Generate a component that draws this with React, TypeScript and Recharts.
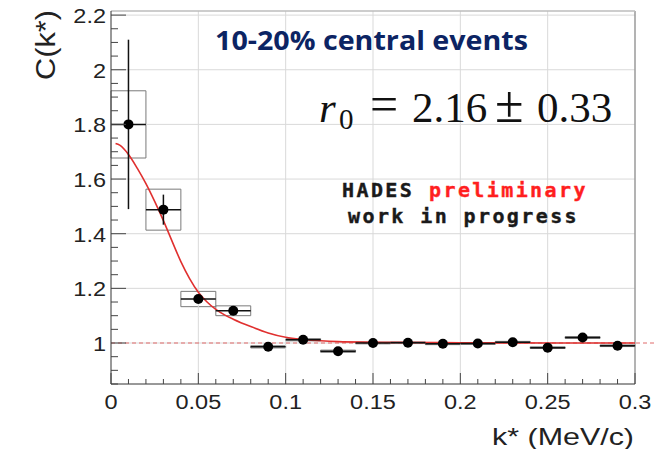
import React from 'react';
import {
  ComposedChart,
  XAxis,
  YAxis,
  Scatter,
  Line,
  ErrorBar,
  ReferenceLine,
  ReferenceArea,
} from 'recharts';

// Correlation function C(k*) per k* bin (bin width 0.02 MeV/c)
const binCenters = [0.01, 0.03, 0.05, 0.07, 0.09, 0.11, 0.13, 0.15, 0.17, 0.19, 0.21, 0.23, 0.25, 0.27, 0.29];
const corrValues = [1.8, 1.488, 1.161, 1.118, 0.986, 1.012, 0.97, 1.0, 1.001, 0.997, 0.998, 1.003, 0.983, 1.02, 0.99];
const statErrors = [0.31, 0.055, 0.012, 0.01, 0.006, 0.006, 0.006, 0.005, 0.005, 0.005, 0.005, 0.005, 0.005, 0.005, 0.005];
const sysErrors = [0.123, 0.075, 0.028, 0.018, 0.004, 0.004, 0.004, 0.003, 0.003, 0.003, 0.003, 0.003, 0.003, 0.003, 0.003];
const binHalfWidth = 0.01;

// Fitted correlation function
const fitK = [0.0026, 0.005, 0.01, 0.015, 0.02, 0.025, 0.03, 0.035, 0.04, 0.045, 0.05, 0.055, 0.06, 0.065, 0.07, 0.08, 0.09, 0.1, 0.11, 0.12, 0.13, 0.15, 0.2, 0.25, 0.3];
const fitC = [1.73, 1.724, 1.69, 1.64, 1.583, 1.518, 1.448, 1.372, 1.298, 1.236, 1.186, 1.15, 1.123, 1.103, 1.087, 1.06, 1.037, 1.021, 1.013, 1.008, 1.005, 1.003, 1.001, 1.0, 1.0];

// Axis ticks
const xMajorTicks = [0, 0.05, 0.1, 0.15, 0.2, 0.25, 0.3];
const yMajorTicks = [1, 1.2, 1.4, 1.6, 1.8, 2, 2.2];
const xDomain: [number, number] = [0, 0.3];
const yDomain: [number, number] = [0.85, 2.215];

const round = (v: number) => Math.round(v * 10000) / 10000;

function subdivide(majors: number[], parts: number, lo: number, hi: number) {
  const step = (majors[1] - majors[0]) / parts;
  const out: number[] = [];
  for (let v = majors[0] - step * parts; v <= hi + 1e-9; v += step) {
    const r = round(v);
    if (r >= lo - 1e-9 && r <= hi + 1e-9) out.push(r);
  }
  return out;
}

const xAllTicks = subdivide(xMajorTicks, 5, xDomain[0], xDomain[1]);
const yAllTicks = subdivide(yMajorTicks, 4, yDomain[0], 2.2);

const isMajor = (v: number, majors: number[]) => majors.some((m) => Math.abs(m - v) < 1e-6);
const fmt = (v: number) => String(Math.round(v * 100) / 100);

const points = binCenters.map((k, i) => ({
  k,
  c: corrValues[i],
  ey: statErrors[i],
  ex: binHalfWidth,
}));
const curve = fitK.map((k, i) => ({ k, c: fitC[i] }));

const TICK_FONT = '"Liberation Sans", Arial, sans-serif';
const MONO_FONT = '"DejaVu Sans Mono", monospace';
const SERIF_FONT = '"Liberation Serif", "DejaVu Serif", serif';

const XTick = (props: any) => {
  const { x, y, payload } = props;
  const major = isMajor(payload.value, xMajorTicks);
  return (
    <g>
      <line x1={x} x2={x} y1={y} y2={y - (major ? 11 : 5)} stroke="#444" strokeWidth={1} />
      {major && (
        <text
          transform={`translate(${x},${y + 25}) scale(1.12,1)`}
          textAnchor="middle"
          fontFamily={TICK_FONT}
          fontSize={21}
          fill="#222"
        >
          {fmt(payload.value)}
        </text>
      )}
    </g>
  );
};

const YTick = (props: any) => {
  const { x, y, payload } = props;
  const major = isMajor(payload.value, yMajorTicks);
  return (
    <g>
      <line x1={x} x2={x + (major ? 15 : 7)} y1={y} y2={y} stroke="#444" strokeWidth={1} />
      {major && (
        <text
          transform={`translate(${x - 5},${y + 8}) scale(1.12,1)`}
          textAnchor="end"
          fontFamily={TICK_FONT}
          fontSize={21}
          fill="#222"
        >
          {fmt(payload.value)}
        </text>
      )}
    </g>
  );
};

const Dot = (props: any) => <circle cx={props.cx} cy={props.cy} r={5} fill="#000" />;

export default function App() {
  return (
    <div style={{ position: 'absolute', left: 0, top: 0, width: 672, height: 449, background: '#fff' }}>
      <ComposedChart
        width={672}
        height={449}
        margin={{ top: 11, right: 37, bottom: 35, left: 51 }}
      >
        <XAxis
          type="number"
          dataKey="k"
          domain={xDomain}
          ticks={xAllTicks}
          interval={0}
          allowDataOverflow
          tickSize={0}
          tickMargin={0}
          height={30}
          stroke="#333"
          tick={<XTick />}
        />
        <YAxis
          type="number"
          dataKey="c"
          domain={yDomain}
          ticks={yAllTicks}
          interval={0}
          allowDataOverflow
          tickSize={0}
          tickMargin={0}
          width={60}
          stroke="#333"
          tick={<YTick />}
        />

        {/* grid */}
        {xMajorTicks.slice(1, -1).map((v) => (
          <ReferenceLine key={`gx${v}`} x={v} stroke="#d9d9d9" strokeWidth={1} />
        ))}
        {yMajorTicks.map((v) => (
          <ReferenceLine key={`gy${v}`} y={v} stroke="#d9d9d9" strokeWidth={1} />
        ))}
        {/* frame */}
        <ReferenceLine x={xDomain[1]} stroke="#9a9a9a" strokeWidth={1.5} />
        <ReferenceLine y={yDomain[1]} stroke="#bdbdbd" strokeWidth={1.5} />

        {/* unity baseline */}
        <ReferenceLine
          segment={[{ x: 0, y: 1 }, { x: 0.311, y: 1 }]}
          ifOverflow="visible"
          stroke="#e06a6a"
          strokeDasharray="4 3"
          strokeWidth={1}
        />

        {/* systematic uncertainty boxes */}
        {binCenters.map((k, i) => (
          <ReferenceArea
            key={`sys${k}`}
            x1={round(k - binHalfWidth)}
            x2={round(k + binHalfWidth)}
            y1={corrValues[i] - sysErrors[i]}
            y2={corrValues[i] + sysErrors[i]}
            fill="none"
            fillOpacity={0}
            stroke="#7a7a7a"
            strokeWidth={1}
          />
        ))}

        <Line
          data={curve}
          dataKey="c"
          type="monotone"
          stroke="#e0302f"
          strokeWidth={1.6}
          dot={false}
          isAnimationActive={false}
        />

        <Scatter data={points} dataKey="c" shape={<Dot />} isAnimationActive={false}>
          <ErrorBar dataKey="ey" direction="y" width={0} stroke="#111" strokeWidth={1.5} isAnimationActive={false} />
          <ErrorBar dataKey="ex" direction="x" width={0} stroke="#111" strokeWidth={1.5} isAnimationActive={false} />
        </Scatter>
      </ComposedChart>

      <svg
        width={672}
        height={449}
        style={{ position: 'absolute', left: 0, top: 0, pointerEvents: 'none' }}
      >
        <text
          x={215}
          y={50}
          fontFamily='"Open Sans", "Noto Sans", sans-serif'
          fontWeight={700}
          fontSize={27}
          fill="#0c2463"
          textLength={313}
          lengthAdjust="spacingAndGlyphs"
        >
          10-20% central events
        </text>

        <text fontFamily={SERIF_FONT} fontSize={43} fill="#111">
          <tspan x={319} y={122} fontStyle="italic">r</tspan>
          <tspan x={339} y={129} fontSize={29}>0</tspan>
          <tspan x={370} y={121} fontSize={50}>=</tspan>
          <tspan x={412} y={122}>2.16</tspan>
          <tspan x={495} y={122} fontSize={52}>±</tspan>
          <tspan x={537} y={122}>0.33</tspan>
        </text>

        <g stroke="#1a1a1a" strokeWidth={0.4}>
          <text y={197} fontFamily={MONO_FONT} fontWeight={700} fontSize={20} letterSpacing={2.4}>
            <tspan x={342} fill="#1a1a1a">HADES</tspan>
            <tspan x={429} fill="#ff1f1f" stroke="#ff1f1f">preliminary</tspan>
          </text>
          <text
            x={348}
            y={223}
            fontFamily={MONO_FONT}
            fontWeight={700}
            fontSize={20}
            letterSpacing={2.4}
            fill="#1a1a1a"
          >
            work in progress
          </text>
        </g>

        <text
          x={634}
          y={445}
          textAnchor="end"
          fontFamily={TICK_FONT}
          fontSize={24}
          fill="#222"
          textLength={142}
          lengthAdjust="spacingAndGlyphs"
        >
          k* (MeV/c)
        </text>
        <text
          transform="translate(55,10) rotate(-90)"
          textAnchor="end"
          fontFamily={TICK_FONT}
          fontSize={27}
          fill="#222"
          textLength={70}
          lengthAdjust="spacingAndGlyphs"
        >
          C(k*)
        </text>
      </svg>
    </div>
  );
}
